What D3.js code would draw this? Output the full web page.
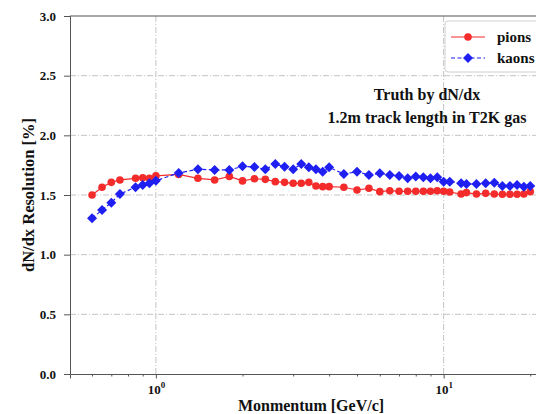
<!DOCTYPE html>
<html><head><meta charset="utf-8">
<script src="https://cdn.jsdelivr.net/npm/d3@7"></script>
<style>body{margin:0;background:#fff}svg{display:block}</style>
</head><body><svg id="c" width="536" height="414"></svg>
<script>
const pionP = [0.6,0.65,0.7,0.75,0.85,0.9,0.95,1.0,1.2,1.4,1.6,1.8,2.0,2.2,2.4,2.6,2.8,3.0,3.2,3.4,3.6,3.8,4.0,4.5,5.0,5.5,6.0,6.5,7.0,7.5,8.0,8.5,9.0,9.5,10,10.5,11.5,12,13,14,15,16,17,18,19,20];
const pionRes = [1.50,1.565,1.606,1.626,1.64,1.645,1.64,1.66,1.672,1.64,1.626,1.656,1.618,1.636,1.631,1.612,1.606,1.598,1.598,1.606,1.575,1.570,1.570,1.565,1.542,1.556,1.528,1.536,1.531,1.531,1.531,1.531,1.531,1.536,1.531,1.525,1.508,1.520,1.508,1.514,1.508,1.506,1.506,1.506,1.508,1.528];
const kaonP = pionP;
const kaonRes = [1.305,1.374,1.436,1.508,1.565,1.584,1.598,1.62,1.685,1.716,1.71,1.71,1.740,1.735,1.715,1.760,1.737,1.715,1.760,1.732,1.715,1.695,1.732,1.676,1.695,1.668,1.682,1.668,1.659,1.640,1.654,1.648,1.640,1.648,1.612,1.612,1.598,1.592,1.592,1.598,1.603,1.575,1.575,1.584,1.570,1.575];
const yTicks = [0.0,0.5,1.0,1.5,2.0,2.5,3.0];
const xMajor = [1,10];
const xMinor = [0.6,0.7,0.8,0.9,2,3,4,5,6,7,8,9,20];
const seriesNames = ["pions","kaons"];
const annot = ["Truth by dN/dx","1.2m track length in T2K gas"];

const svg = d3.select("#c");
const L=70, R=552, T=16, B=374;
const x = d3.scaleLog().domain([0.503,23.8]).range([L,R]);
const y = d3.scaleLinear().domain([0,3]).range([B,T]);
const font = "'Liberation Serif','Times New Roman',serif";
const red="#f42b2b", blue="#1f1ff2";
const diamond = r => `M0,${-r}L${r},0L0,${r}L${-r},0Z`;

// grid
const g = svg.append("g");
g.selectAll(".gy").data(yTicks.filter(d=>d>0&&d<3)).enter().append("line")
 .attr("x1",L).attr("x2",R).attr("y1",d=>y(d)).attr("y2",d=>y(d))
 .attr("stroke","#c4c4c4").attr("stroke-width",1).attr("stroke-dasharray","6,2,1,2");
g.selectAll(".gx").data(xMajor).enter().append("line")
 .attr("x1",d=>x(d)).attr("x2",d=>x(d)).attr("y1",T).attr("y2",B)
 .attr("stroke","#c4c4c4").attr("stroke-width",1).attr("stroke-dasharray","6,2,1,2");

// axes
const yAxis = d3.axisLeft(y).tickValues(yTicks).tickFormat(d3.format(".1f")).tickSize(6).tickPadding(8);
const ya = svg.append("g").attr("transform",`translate(${L},0)`).call(yAxis);
ya.select(".domain").attr("stroke","#555");
ya.selectAll(".tick line").attr("stroke","#555");
ya.selectAll("text").attr("font-family",font).attr("font-weight","bold").attr("font-size",13).attr("fill","#111");

const xAxisMinor = d3.axisBottom(x).tickValues(xMinor).tickFormat("").tickSize(2.5);
const xm = svg.append("g").attr("transform",`translate(0,${B})`).call(xAxisMinor);
xm.select(".domain").remove();
xm.selectAll(".tick line").attr("stroke","#555");
const xAxis = d3.axisBottom(x).tickValues(xMajor).tickFormat("").tickSize(4.5);
const xa = svg.append("g").attr("transform",`translate(0,${B})`).call(xAxis);
xa.select(".domain").attr("stroke","#555");
xa.selectAll(".tick line").attr("stroke","#555");
xa.selectAll(".tick").each(function(d){
  const t = d3.select(this).append("text").attr("y",20).attr("text-anchor","middle")
    .attr("font-family",font).attr("font-weight","bold").attr("font-size",13).attr("fill","#111");
  t.append("tspan").text("10");
  t.append("tspan").attr("dy",-6).attr("font-size",9).text(Math.round(Math.log10(d)));
});
svg.append("line").attr("x1",L).attr("x2",R).attr("y1",T).attr("y2",T).attr("stroke","#555");

// lines
const line = d3.line().x(d=>x(d[0])).y(d=>y(d[1]));
const pd = pionP.map((p,i)=>[p,pionRes[i]]);
const kd = kaonP.map((p,i)=>[p,kaonRes[i]]);
svg.append("path").datum(pd).attr("d",line).attr("fill","none").attr("stroke",red).attr("stroke-width",1.2);
svg.append("path").datum(kd).attr("d",line).attr("fill","none").attr("stroke",blue).attr("stroke-width",1.2).attr("stroke-dasharray","4,2.5");
svg.append("g").selectAll("circle").data(pd).enter().append("circle")
 .attr("cx",d=>x(d[0])).attr("cy",d=>y(d[1])).attr("r",3.8).attr("fill",red);
svg.append("g").selectAll("path").data(kd).enter().append("path")
 .attr("d",diamond(5)).attr("transform",d=>`translate(${x(d[0])},${y(d[1])})`).attr("fill",blue);

// legend
const lg = svg.append("g");
lg.append("rect").attr("x",445).attr("y",21).attr("width",110).attr("height",51).attr("rx",3)
 .attr("fill","#fff").attr("stroke","#d0d0d0");
[0,1].forEach(i=>{
  const yy = 37+i*21;
  lg.append("line").attr("x1",451).attr("x2",485).attr("y1",yy).attr("y2",yy)
    .attr("stroke",i?blue:red).attr("stroke-width",1.2).attr("stroke-dasharray",i?"4,2.5":null);
  if(i) lg.append("path").attr("d",diamond(5)).attr("transform",`translate(468,${yy})`).attr("fill",blue);
  else lg.append("circle").attr("cx",468).attr("cy",yy).attr("r",3.8).attr("fill",red);
  lg.append("text").attr("x",497).attr("y",yy+5).text(seriesNames[i])
    .attr("font-family",font).attr("font-weight","bold").attr("font-size",15).attr("fill","#111");
});

// annotation
annot.forEach((s,i)=>{
  svg.append("text").attr("x",427).attr("y",100+i*23).attr("text-anchor","middle").text(s)
   .attr("font-family",font).attr("font-weight","bold").attr("font-size",16).attr("fill","#111");
});

// axis labels
svg.append("text").attr("transform",`translate(34,${(T+B)/2}) rotate(-90)`).attr("text-anchor","middle")
 .text("dN/dx Resolution [%]").attr("font-family",font).attr("font-weight","bold").attr("font-size",16.5).attr("fill","#111");
svg.append("text").attr("x",311).attr("y",411).attr("text-anchor","middle")
 .text("Monmentum [GeV/c]").attr("font-family",font).attr("font-weight","bold").attr("font-size",16).attr("fill","#111");
</script></body></html>
